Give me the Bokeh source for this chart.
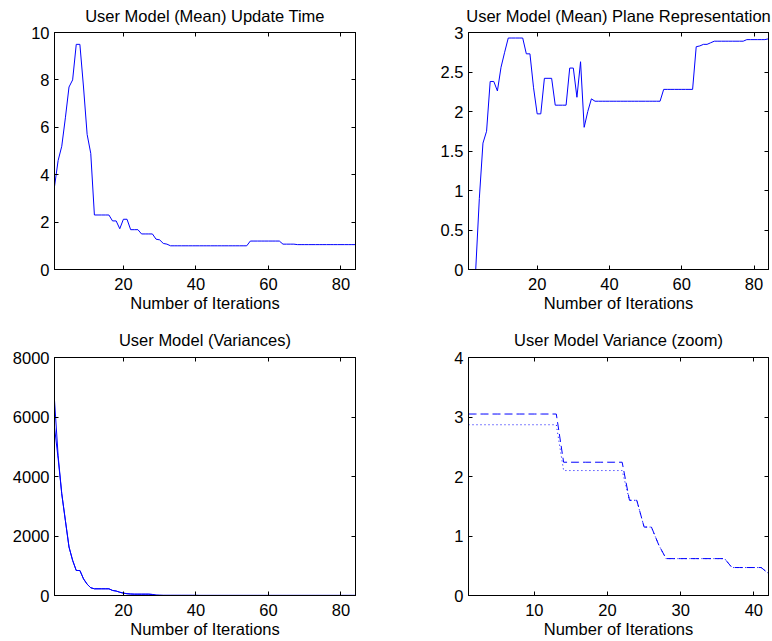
from bokeh.plotting import figure
from bokeh.layouts import column, row
from bokeh.models import Range1d, FixedTicker, CustomJSTickFormatter, LinearAxis
from bokeh.embed import file_html
from bokeh.resources import INLINE

# ---------------- data ----------------
iterations = list(range(1, 85))
update_time = [3.5, 4.6, 5.2, 6.4, 7.7, 8.0, 9.5, 9.5, 7.7, 5.7,
               4.9, 2.3, 2.3, 2.3, 2.3, 2.3, 2.05, 2.05, 1.72, 2.12,
               2.12, 1.68, 1.68, 1.68, 1.5, 1.5, 1.5, 1.5, 1.28, 1.25,
               1.1, 1.07, 1.0, 1.0, 1.0, 1.0, 1.0, 1.0, 1.0, 1.0,
               1.0, 1.0, 1.0, 1.0, 1.0, 1.0, 1.0, 1.0, 1.0, 1.0,
               1.0, 1.0, 1.0, 1.0, 1.2, 1.2, 1.2, 1.2, 1.2, 1.2,
               1.2, 1.2, 1.2, 1.07, 1.07, 1.07, 1.07, 1.05, 1.05, 1.05,
               1.05, 1.05, 1.05, 1.05, 1.05, 1.05, 1.05, 1.05, 1.05, 1.05,
               1.05, 1.05, 1.05, 1.05]

plane_iterations = list(range(3, 85))
plane_repr = [0.0, 0.9, 1.6, 1.75, 2.38, 2.38, 2.26, 2.56, 2.75, 2.93,
              2.93, 2.93, 2.93, 2.93, 2.73, 2.73, 2.3, 1.97, 1.97, 2.42,
              2.42, 2.42, 2.08, 2.08, 2.08, 2.08, 2.55, 2.55, 2.18, 2.63,
              1.8, 2.0, 2.16, 2.13, 2.13, 2.13, 2.13, 2.13, 2.13, 2.13,
              2.13, 2.13, 2.13, 2.13, 2.13, 2.13, 2.13, 2.13, 2.13, 2.13,
              2.13, 2.13, 2.28, 2.28, 2.28, 2.28, 2.28, 2.28, 2.28, 2.28,
              2.28, 2.82, 2.83, 2.85, 2.85, 2.87, 2.89, 2.89, 2.89, 2.89,
              2.89, 2.89, 2.89, 2.89, 2.89, 2.91, 2.91, 2.91, 2.91, 2.91,
              2.91, 2.92]

variance_a = [6560, 4700, 3420, 2520, 1630, 1180, 840, 840, 560, 380,
              260, 225, 225, 225, 225, 225, 170, 150, 110, 80,
              60, 50, 45, 45, 45, 45, 45, 35, 12, 8,
              5, 5, 5, 5, 5, 5, 5, 5, 5, 5,
              3, 3, 3, 3, 3, 3, 3, 3, 3, 3,
              3, 3, 3, 3, 3, 3, 3, 3, 3, 3,
              3, 3, 3, 3, 3, 3, 3, 3, 3, 3,
              3, 3, 3, 3, 3, 3, 3, 3, 3, 3,
              3, 3, 3, 3]
variance_b = [5660, 4600, 3420, 2520, 1630, 1180, 840, 840, 560, 380,
              260, 225, 225, 225, 225, 225, 170, 150, 110, 80,
              60, 50, 45, 45, 45, 45, 45, 35, 12, 8,
              5, 5, 5, 5, 5, 5, 5, 5, 5, 5,
              3, 3, 3, 3, 3, 3, 3, 3, 3, 3,
              3, 3, 3, 3, 3, 3, 3, 3, 3, 3,
              3, 3, 3, 3, 3, 3, 3, 3, 3, 3,
              3, 3, 3, 3, 3, 3, 3, 3, 3, 3,
              3, 3, 3, 3]

zoom_iterations = list(range(1, 43))
zoom_var_dashed = [3.05, 3.05, 3.05, 3.05, 3.05, 3.05, 3.05, 3.05, 3.05, 3.05,
                   3.05, 3.05, 3.05, 2.24, 2.24, 2.24, 2.24, 2.24, 2.24, 2.24,
                   2.24, 2.24, 1.6, 1.6, 1.15, 1.15, 0.85, 0.62, 0.62, 0.62,
                   0.62, 0.62, 0.62, 0.62, 0.62, 0.62, 0.47, 0.47, 0.47, 0.47,
                   0.47, 0.37]
zoom_var_dotted = [2.87, 2.87, 2.87, 2.87, 2.87, 2.87, 2.87, 2.87, 2.87, 2.87,
                   2.87, 2.87, 2.87, 2.1, 2.1, 2.1, 2.1, 2.1, 2.1, 2.1,
                   2.1, 2.1, 1.6, 1.6, 1.15, 1.15, 0.85, 0.62, 0.62, 0.62,
                   0.62, 0.62, 0.62, 0.62, 0.62, 0.62, 0.47, 0.47, 0.47, 0.47,
                   0.47, 0.37]

x_ticks_full = [20, 40, 60, 80]
x_ticks_zoom = [10, 20, 30, 40]
y_ticks_time = [0, 2, 4, 6, 8, 10]
y_ticks_plane = [0, 0.5, 1, 1.5, 2, 2.5, 3]
y_ticks_var = [0, 2000, 4000, 6000, 8000]
y_ticks_zoom = [0, 1, 2, 3, 4]

titles = ["User Model (Mean) Update Time",
          "User Model (Mean) Plane Representation",
          "User Model (Variances)",
          "User Model Variance (zoom)"]
x_label = "Number of Iterations"

FONT = "Liberation Sans"
FSIZE = "16.5px"
LINE = "#0000ff"


def style_axis(ax, ticks, standoff, labels=True):
    ax.ticker = FixedTicker(ticks=ticks)
    ax.formatter = CustomJSTickFormatter(code="return String(tick);")
    ax.axis_line_color = "black"
    ax.major_tick_line_color = "black"
    ax.major_tick_in = 4
    ax.major_tick_out = 0
    ax.minor_tick_line_color = None
    ax.major_label_text_font = FONT
    ax.major_label_standoff = standoff
    if labels:
        ax.major_label_text_font_size = FSIZE
        ax.major_label_text_color = "black"
    else:
        ax.major_label_text_font_size = "0px"
        ax.major_label_text_color = None


def make_fig(title, width, height, borders, x_rng, y_rng, xticks, yticks,
             title_valign, title_standoff):
    left, right, top, bottom = borders
    p = figure(width=width, height=height,
               x_range=Range1d(*x_rng), y_range=Range1d(*y_rng),
               output_backend="svg", toolbar_location=None,
               min_border_left=left, min_border_right=right,
               min_border_top=top, min_border_bottom=bottom,
               background_fill_color="white", border_fill_color="white")
    p.title.text = title
    p.title.text_font = FONT
    p.title.text_font_size = FSIZE
    p.title.text_font_style = "normal"
    p.title.align = "center"
    p.title.vertical_align = title_valign
    p.title.standoff = title_standoff
    p.title.text_color = "black"
    p.xgrid.visible = False
    p.ygrid.visible = False
    p.outline_line_color = "black"
    p.outline_line_alpha = 1.0
    style_axis(p.xaxis[0], xticks, 8)
    style_axis(p.yaxis[0], yticks, 5)
    p.xaxis[0].axis_label = x_label
    p.xaxis[0].axis_label_text_font = FONT
    p.xaxis[0].axis_label_text_font_size = FSIZE
    p.xaxis[0].axis_label_text_font_style = "normal"
    p.xaxis[0].axis_label_text_color = "black"
    p.xaxis[0].axis_label_standoff = 1
    # mirrored inward ticks on the top and right edges of the box
    top_ax = LinearAxis()
    style_axis(top_ax, xticks, 0, labels=False)
    right_ax = LinearAxis()
    style_axis(right_ax, yticks, 0, labels=False)
    p.add_layout(top_ax, "above")
    p.add_layout(right_ax, "right")
    return p


p1 = make_fig(titles[0], 386, 316, (54, 31, 32, 47), (1, 84), (0, 10),
              x_ticks_full, y_ticks_time, "top", 11)
p1.line(iterations, update_time, line_color=LINE, line_width=1)

p2 = make_fig(titles[1], 386, 316, (82, 4, 32, 47), (1, 84), (0, 3),
              x_ticks_full, y_ticks_plane, "top", 11)
p2.line(plane_iterations, plane_repr, line_color=LINE, line_width=1)

p3 = make_fig(titles[2], 386, 325, (54, 31, 41, 46), (1, 84), (0, 8000),
              x_ticks_full, y_ticks_var, "bottom", 17)
p3.line(iterations, variance_a, line_color=LINE, line_width=1)
p3.line(iterations, variance_b, line_color=LINE, line_width=1)

p4 = make_fig(titles[3], 386, 325, (82, 4, 41, 46), (1, 42), (0, 4),
              x_ticks_zoom, y_ticks_zoom, "bottom", 17)
p4.line(zoom_iterations, zoom_var_dashed, line_color=LINE, line_width=1,
        line_dash="8 4")
p4.line(zoom_iterations, zoom_var_dotted, line_color=LINE, line_width=1,
        line_dash="1 3")

layout = column(row(p1, p2), row(p3, p4))

open("out.html", "w").write(file_html(layout, INLINE))
